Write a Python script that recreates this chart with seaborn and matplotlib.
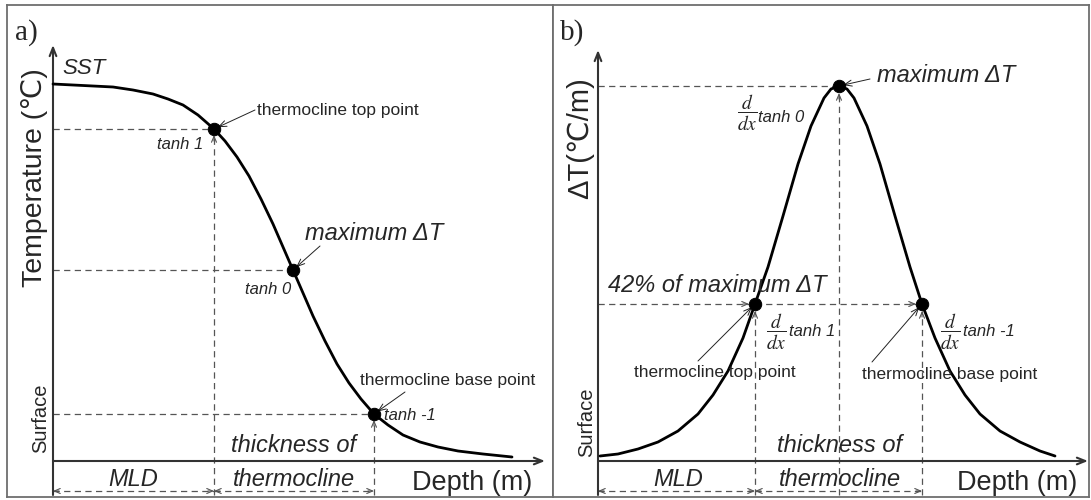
import numpy as np
import pandas as pd
import matplotlib
matplotlib.use("Agg")
import matplotlib.pyplot as plt
import seaborn as sns

# ---------------- data (schematic, arbitrary units) ----------------
# panel a: temperature profile
depth_a = [0, 20, 40, 60, 80, 100, 115, 130, 145, 161, 172, 184, 196, 208, 220, 230, 240,
           250, 260, 272, 284, 296, 308, 321, 335, 350, 367, 385, 405, 430, 459]
temp_a = [377, 376, 375, 374, 371, 367, 362, 356, 346, 332, 320, 304, 285, 262, 237, 214, 191,
          168, 145, 120, 97, 78, 62, 47, 36, 26, 19, 14, 10, 7, 4]
key_idx_a = [9, 16, 23]          # thermocline top, maximum dT, thermocline base

# panel b: vertical temperature gradient
depth_b = [2, 20, 40, 60, 80, 100, 115, 130, 145, 157, 170, 185, 200, 213, 226, 233, 241,
           249, 256, 269, 282, 297, 312, 324, 337, 352, 367, 382, 402, 422, 442, 457]
grad_b = [5, 7, 12, 19, 30, 47, 66, 90, 123, 157, 194, 245, 297, 335, 363, 372, 375,
          372, 363, 335, 297, 245, 194, 157, 123, 90, 66, 47, 30, 19, 10, 5]
key_idx_b = [9, 16, 23]

labels_a = ["tanh 1", "tanh 0", "tanh -1"]
labels_b = ["tanh 1", "tanh 0", "tanh -1"]

# ---------------- style ----------------
sns.set_theme(style="white")
FAM = ["Liberation Sans", "DejaVu Sans", "Noto Sans CJK SC"]
plt.rcParams["font.family"] = FAM
plt.rcParams["mathtext.fontset"] = "stix"

W, H = 1091, 500
fig = plt.figure(figsize=(W / 100, H / 100), dpi=100)

def add_panel(left_px, right_px, axis_px):
    ax = fig.add_axes([left_px / W, 3 / H, (right_px - left_px) / W, (497 - 5) / H])
    ax.set_xlim(left_px - axis_px, right_px - axis_px)
    ax.set_ylim(461 - 497, 461 - 5)
    ax.set_xticks([]); ax.set_yticks([])
    for s in ax.spines.values():
        s.set_color("#6e6e6e"); s.set_linewidth(1.3)
    return ax

axa = add_panel(7, 553, 53)
axb = add_panel(553, 1089, 598)

DASH = dict(color="#555555", lw=0.9, ls=(0, (5, 3.5)))
AX_COL = "#333333"

def axes_arrows(ax, ytop, xend):
    ax.annotate("", xy=(0, ytop), xytext=(0, -34),
                arrowprops=dict(arrowstyle="->,head_length=0.5,head_width=0.2", lw=1.5, color=AX_COL,
                                shrinkA=0, shrinkB=0))
    ax.annotate("", xy=(xend, 0), xytext=(0, 0),
                arrowprops=dict(arrowstyle="->,head_length=0.5,head_width=0.2", lw=1.5, color=AX_COL,
                                shrinkA=0, shrinkB=0))

def dashed_arrow(ax, p0, p1, head=True, back_head=False):
    ax.plot([p0[0], p1[0]], [p0[1], p1[1]], **DASH, zorder=1)
    hp = dict(arrowstyle="->,head_length=0.35,head_width=0.15", lw=0.8, color="#555555",
              shrinkA=0, shrinkB=0)
    v = np.array(p1, float) - np.array(p0, float)
    u = v / np.hypot(*v)
    if head:
        ax.annotate("", xy=p1, xytext=tuple(np.array(p1) - u * 6), arrowprops=hp)
    if back_head:
        ax.annotate("", xy=p0, xytext=tuple(np.array(p0) + u * 6), arrowprops=hp)

def pointer(ax, start, end):
    ax.annotate("", xy=end, xytext=start,
                arrowprops=dict(arrowstyle="->,head_length=0.45,head_width=0.18", lw=0.7,
                                color="#222222", shrinkA=0, shrinkB=3))

ITAL_BIG = dict(fontsize=17, style="italic", family=FAM)
ITAL_SM = dict(fontsize=12, style="italic", family=FAM)
NORM_SM = dict(fontsize=12.5, family=FAM)

# ================= panel a =================
axes_arrows(axa, 416, 492)
xa = [depth_a[i] for i in key_idx_a]
ya = [temp_a[i] for i in key_idx_a]
for x, y in zip(xa, ya):
    axa.plot([0, x], [y, y], **DASH, zorder=1)
dashed_arrow(axa, (xa[0], -34), (xa[0], ya[0] - 6))
dashed_arrow(axa, (xa[2], -34), (xa[2], ya[2] - 6))
dashed_arrow(axa, (0, -30), (xa[0], -30), head=True, back_head=True)
dashed_arrow(axa, (xa[0], -30), (xa[2], -30), head=True, back_head=True)

sns.lineplot(x=depth_a, y=temp_a, ax=axa, color="black", lw=2.0, sort=False, zorder=3)
sns.scatterplot(x=xa, y=ya, ax=axa, color="black", s=80, edgecolor="black", zorder=4)

axa.text(-38, 421, "a)", fontsize=21, family=["Liberation Serif", "DejaVu Serif"], ha="left", va="baseline")
axa.text(9, 403, "SST", ha="left", va="top", fontsize=16, style="italic")
axa.text(-18, 283, "Temperature (℃)", rotation=90, ha="center", va="center", fontsize=20.5, family=FAM)
axa.text(-12, 43, "Surface", rotation=90, ha="center", va="center", fontsize=14.5, family=FAM)
axa.text(150, 324, labels_a[0], ha="right", va="top", **ITAL_SM)
axa.text(204, 351, "thermocline top point", ha="left", va="center", **NORM_SM)
pointer(axa, (202, 351), (xa[0], ya[0]))
axa.text(252, 227, "maximum ΔT", ha="left", va="center", **ITAL_BIG)
pointer(axa, (267, 215), (xa[1], ya[1]))
axa.text(238, 179, labels_a[1], ha="right", va="top", **ITAL_SM)
axa.text(482, 80, "thermocline base point", ha="right", va="center", **NORM_SM)
pointer(axa, (352, 69), (xa[2], ya[2]))
axa.text(331, 46, labels_a[2], ha="left", va="center", **ITAL_SM)
axa.text(80, -18, "MLD", ha="center", va="center", **ITAL_BIG)
axa.text(241, 15, "thickness of", ha="center", va="center", **ITAL_BIG)
axa.text(241, -18, "thermocline", ha="center", va="center", **ITAL_BIG)
axa.text(479, -22, "Depth (m)", ha="right", va="center", fontsize=19.5, family=FAM)

# ================= panel b =================
axes_arrows(axb, 411, 490)
xb = [depth_b[i] for i in key_idx_b]
yb = [grad_b[i] for i in key_idx_b]
axb.plot([0, xb[1]], [yb[1], yb[1]], **DASH, zorder=1)
dashed_arrow(axb, (0, yb[0]), (xb[0] - 6, yb[0]))
dashed_arrow(axb, (xb[0], yb[2]), (xb[2] - 6, yb[2]))
for x, y in zip(xb, yb):
    dashed_arrow(axb, (x, -34), (x, y - 7))
dashed_arrow(axb, (0, -30), (xb[0], -30), head=True, back_head=True)
dashed_arrow(axb, (xb[0], -30), (xb[2], -30), head=True, back_head=True)

sns.lineplot(x=depth_b, y=grad_b, ax=axb, color="black", lw=2.0, sort=False, zorder=3)
sns.scatterplot(x=xb, y=yb, ax=axb, color="black", s=80, edgecolor="black", zorder=4)

axb.text(-38, 421, "b)", fontsize=21, family=["Liberation Serif", "DejaVu Serif"], ha="left", va="baseline")
axb.text(-18, 323, "ΔT(℃/m)", rotation=90, ha="center", va="center", fontsize=21, family=FAM)
axb.text(-11, 39, "Surface", rotation=90, ha="center", va="center", fontsize=14.5, family=FAM)
axb.text(279, 386, "maximum ΔT", ha="left", va="center", **ITAL_BIG)
pointer(axb, (272, 382), (xb[1], yb[1]))
FR = r"$\dfrac{d}{dx}$"
axb.text(149, 348, FR, ha="center", va="center", fontsize=14)
axb.text(160, 344, labels_b[1], ha="left", va="center", **ITAL_SM)
axb.text(10, 175, "42% of maximum ΔT", ha="left", va="center", **ITAL_BIG)
axb.text(178, 129, FR, ha="center", va="center", fontsize=14)
axb.text(191, 129, labels_b[0], ha="left", va="center", **ITAL_SM)
axb.text(352, 129, FR, ha="center", va="center", fontsize=14)
axb.text(365, 129, labels_b[2], ha="left", va="center", **ITAL_SM)
axb.text(36, 88, "thermocline top point", ha="left", va="center", **NORM_SM)
pointer(axb, (100, 100), (xb[0], yb[0]))
axb.text(264, 86, "thermocline base point", ha="left", va="center", **NORM_SM)
pointer(axb, (274, 99), (xb[2], yb[2]))
axb.text(80, -18, "MLD", ha="center", va="center", **ITAL_BIG)
axb.text(242, 15, "thickness of", ha="center", va="center", **ITAL_BIG)
axb.text(242, -18, "thermocline", ha="center", va="center", **ITAL_BIG)
axb.text(479, -22, "Depth (m)", ha="right", va="center", fontsize=19.5, family=FAM)

fig.savefig("out.png", dpi=100)
